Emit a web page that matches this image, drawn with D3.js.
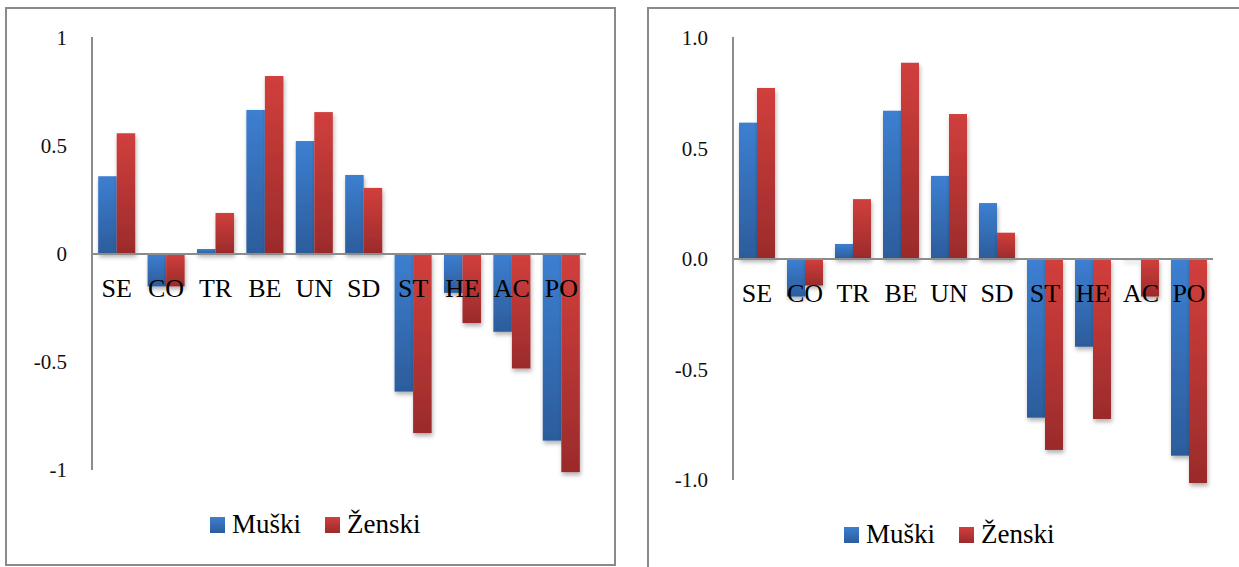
<!DOCTYPE html>
<html><head><meta charset="utf-8">
<script src="https://cdn.jsdelivr.net/npm/d3@7"></script>
<style>
html,body{margin:0;padding:0;background:#fff;}
svg{display:block;}
</style></head>
<body>
<script>
// ---- data ----
const categories = ["SE","CO","TR","BE","UN","SD","ST","HE","AC","PO"];
const seriesNames = ["Muški","Ženski"];
const leftMale   = [0.36, -0.15, 0.023, 0.667, 0.523, 0.366, -0.637, -0.18, -0.36, -0.864];
const leftFemale = [0.559, -0.15, 0.19, 0.824, 0.657, 0.306, -0.829, -0.32, -0.53, -1.01];
const rightMale   = [0.617, -0.17, 0.068, 0.671, 0.376, 0.253, -0.718, -0.397, -0.005, -0.89];
const rightFemale = [0.774, -0.12, 0.271, 0.888, 0.656, 0.119, -0.864, -0.724, -0.17, -1.014];
const leftTicks  = [1, 0.5, 0, -0.5, -1];
const leftTickLabels  = ["1","0.5","0","-0.5","-1"];
const rightTicks = [1, 0.5, 0, -0.5, -1];
const rightTickLabels = ["1.0","0.5","0.0","-0.5","-1.0"];

const W = 1239, H = 567;
const svg = d3.select("body").append("svg").attr("width", W).attr("height", H);
const defs = svg.append("defs");
function grad(id, c1, c2){
  const g = defs.append("linearGradient").attr("id", id).attr("x1",0).attr("y1",0).attr("x2",0).attr("y2",1);
  g.append("stop").attr("offset","0%").attr("stop-color", c1);
  g.append("stop").attr("offset","100%").attr("stop-color", c2);
}
grad("gBlue", "#3d7fd1", "#2c5c9b");
grad("gRed", "#d13f3c", "#9b2b2b");
const f = defs.append("filter").attr("id","shadow").attr("x","-30%").attr("y","-10%").attr("width","160%").attr("height","130%");
f.append("feDropShadow").attr("dx",1).attr("dy",3).attr("stdDeviation",2).attr("flood-color","#000").attr("flood-opacity",0.3);
const fills = ["url(#gBlue)","url(#gRed)"];
const serif = "'Liberation Serif', 'DejaVu Serif', serif";

function drawChart(cfg){
  const g = svg.append("g");
  g.append("rect").attr("x", cfg.frame[0]).attr("y", cfg.frame[1])
    .attr("width", cfg.frame[2]).attr("height", cfg.frame[3])
    .attr("fill","#fff").attr("stroke","#8a8a8a").attr("stroke-width",2);
  const x = d3.scaleBand().domain(categories).range([cfg.x0, cfg.x1]).paddingInner(0.25).paddingOuter(0.125);
  const xs = d3.scaleBand().domain(seriesNames).range([0, x.bandwidth()]);
  const y = d3.scaleLinear().domain([-1, 1]).range([cfg.yBottom, cfg.yTop]);
  const data = [cfg.male, cfg.female];
  seriesNames.forEach((s, si) => {
    g.append("g").attr("filter","url(#shadow)").selectAll("rect")
      .data(categories.map((c,i)=>({c, v:data[si][i]})))
      .join("rect")
      .attr("x", d => x(d.c) + xs(s))
      .attr("width", xs.bandwidth())
      .attr("y", d => y(Math.max(0, d.v)))
      .attr("height", d => Math.abs(y(d.v) - y(0)))
      .attr("fill", fills[si]);
  });
  g.append("line").attr("x1", cfg.x0).attr("x2", cfg.x0)
    .attr("y1", y(1)-1).attr("y2", y(-1)).attr("stroke","#8c8c8c").attr("stroke-width",2);
  g.append("line").attr("x1", cfg.x0).attr("x2", cfg.x1)
    .attr("y1", y(0)).attr("y2", y(0)).attr("stroke","#8c8c8c").attr("stroke-width",2);
  g.selectAll("text.tick").data(cfg.ticks).join("text")
    .attr("class","tick")
    .attr("x", cfg.tickX).attr("y", d => y(d))
    .attr("dy","0.35em").attr("text-anchor","end")
    .style("font-family", serif).style("font-size","21px").attr("fill","#111")
    .text((d,i)=>cfg.tickLabels[i]);
  g.selectAll("text.cat").data(categories).join("text")
    .attr("class","cat")
    .attr("x", d => x(d) + x.bandwidth()/2).attr("y", y(0) + 43)
    .attr("text-anchor","middle")
    .style("font-family", serif).style("font-size","26px").attr("fill","#000")
    .text(d => d);
  const lg = g.append("g").attr("transform", `translate(${cfg.legend[0]},${cfg.legend[1]})`);
  const offs = [0, cfg.legendGap];
  seriesNames.forEach((s, si) => {
    lg.append("rect").attr("x", offs[si]).attr("y", -16).attr("width",15).attr("height",16).attr("fill", fills[si]);
    lg.append("text").attr("x", offs[si] + 22).attr("y", 0)
      .style("font-family", serif).style("font-size","27px").attr("fill","#000")
      .text(s);
  });
}

drawChart({frame:[6,8,609,557], x0:92, x1:586, yTop:38, yBottom:470,
  male:leftMale, female:leftFemale, ticks:leftTicks, tickLabels:leftTickLabels, tickX:67,
  legend:[210,533], legendGap:115});
drawChart({frame:[648,8,620,600], x0:733, x1:1213, yTop:38, yBottom:480,
  male:rightMale, female:rightFemale, ticks:rightTicks, tickLabels:rightTickLabels, tickX:708,
  legend:[844,543], legendGap:115});
</script>
</body></html>
